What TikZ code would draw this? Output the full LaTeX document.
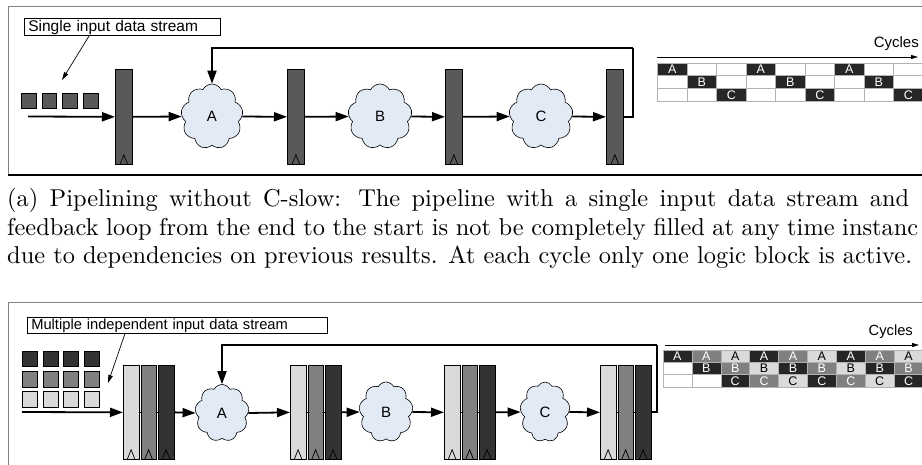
\documentclass[tikz,border=0pt]{standalone}
\usepackage{fontspec}
\newfontfamily\arialf{Liberation Sans}
\usetikzlibrary{arrows.meta,shapes.symbols,calc}
\definecolor{regtop}{HTML}{595959}
\definecolor{darkg}{HTML}{333333}
\definecolor{medg}{HTML}{808080}
\definecolor{lightg}{HTML}{DADADA}
\definecolor{cloudfill}{HTML}{E2EAF6}
\definecolor{cellblack}{HTML}{262626}
\definecolor{framegray}{HTML}{808080}
\begin{document}
\begin{tikzpicture}[x=1pt,y=-1pt,
  arr/.style={line width=1.8pt,-{Triangle[length=13pt,width=9pt]}},
  fbline/.style={line width=1.8pt},
  ptr/.style={line width=0.7pt,-{Triangle[length=8pt,width=4.5pt]}},
  cycarrow/.style={line width=0.8pt,-{Triangle[length=7pt,width=4pt]}},
  regbar/.style={draw=black,line width=0.7pt,inner sep=0pt,anchor=north west},
  bar/.style={regbar,minimum width=15.5pt,minimum height=94pt},
  clk/.style={line width=0.7pt},
  thinl/.style={line width=0.7pt},
  sq/.style={draw=black,line width=0.6pt,inner sep=0pt,anchor=north west,minimum width=14.5pt,minimum height=15.5pt},
  cloudy/.style={cloud,cloud puffs=9,cloud puff arc=125,aspect=1,draw=black,line width=0.6pt,fill=cloudfill,inner sep=0pt,font=\arialf\fontsize{15}{15}\selectfont},
  labelbox/.style={draw=black,line width=0.6pt,anchor=north west,inner xsep=4pt,inner ysep=0pt,align=left,font=\arialf\fontsize{15.5}{17}\selectfont},
  cell/.style={draw=gray!60,line width=0.5pt,inner sep=0pt,anchor=north west,font=\arialf\fontsize{12.5}{12.5}\selectfont},
  captext/.style={inner sep=0pt,anchor=base west},
  cyctext/.style={inner sep=0pt,anchor=base east,font=\arialf\fontsize{15}{15}\selectfont}
]
\useasboundingbox (0,0) rectangle (922,465);
\clip (0,0) rectangle (922,465);

% ================= top panel =================
\draw[framegray,line width=1pt] (8,175) -- (8,7) -- (940,7);
\draw[black,line width=1.5pt] (8,175) -- (940,175);

\node[labelbox,text width=188pt,minimum height=17.5pt] (lab1) at (24,18) {Single input data stream};
\coordinate (p1) at (62,80);
\draw[ptr] ([xshift=65pt]lab1.south west) -- (p1);

\foreach \i/\x in {1/21,2/41.7,3/62.3,4/83}
  \node[sq,fill=regtop] (tsq\i) at (\x,93) {};

\foreach \n/\x in {r1/115,r2/287,r3/445,r4/606}{
  \node[regbar,fill=regtop,minimum width=17pt,minimum height=95pt] (\n) at (\x,69) {};
  \draw[clk] ($(\n.south)+(-4,0)$) -- ($(\n.south)+(0,-10)$) -- ($(\n.south)+(4,0)$);
}

\node[cloudy,minimum width=62pt,minimum height=65pt] (A1) at (212,116.5) {A};
\node[cloudy,minimum width=64pt,minimum height=65pt] (B1) at (380,116.5) {B};
\node[cloudy,minimum width=64pt,minimum height=65pt] (C1) at (541,116.5) {C};

\coordinate (in1) at (28,116.5);
\draw[arr] (in1) -- (r1.west);
\draw[arr] (r1.east) -- (A1.west);
\draw[arr] (A1.east) -- (r2.west);
\draw[arr] (r2.east) -- (B1.west);
\draw[arr] (B1.east) -- (r3.west);
\draw[arr] (r3.east) -- (C1.west);
\draw[arr] (C1.east) -- (r4.west);
\coordinate (fb1) at (633,48);
\draw[fbline] (r4.east) -| (fb1);
\draw[arr] (fb1) -| (A1.north);

% cycles diagram top
\coordinate (ca1s) at (657,57);
\coordinate (ca1e) at (918,57);
\draw[cycarrow] (ca1s) -- (ca1e);
\node[cyctext] (cyc1) at (919,48) {Cycles};
\foreach \c in {0,...,8}{
  \foreach \r in {0,1,2}{
    \pgfmathtruncatemacro\m{mod(\c,3)}
    \ifnum\m=\r
      \node[cell,fill=cellblack,text=white,minimum width=29.5pt,minimum height=12.8pt] (t\r-\c) at (657.3+\c*29.5,62.7+\r*12.8) {\ifcase\r A\or B\or C\fi};
    \else
      \node[cell,fill=white,minimum width=29.5pt,minimum height=12.8pt] (t\r-\c) at (657.3+\c*29.5,62.7+\r*12.8) {};
    \fi
  }
}

% ================= caption =================
\node[captext] (cap1) at (7,207) {\scalebox{2.44}{\fontsize{10}{12}\selectfont\makebox[369.7pt][s]{(a) Pipelining without C-slow: The pipeline with a single input data stream and}}};
\node[captext] (cap2) at (7,235.5) {\scalebox{2.44}{\fontsize{10}{12}\selectfont\makebox[373.4pt][s]{feedback loop from the end to the start is not be completely filled at any time instanc}}};
\node[captext] (cap3) at (7,264) {\scalebox{2.44}{\fontsize{10}{12}\selectfont due to dependencies on previous results. At each cycle only one logic block is active.}};

% ================= bottom panel =================
\draw[framegray,line width=1pt] (8,480) -- (8,303) -- (940,303);

\node[labelbox,text width=292pt,minimum height=16pt,font=\arialf\fontsize{14.7}{16}\selectfont] (lab2) at (27,317) {Multiple independent input data stream};
\coordinate (p2) at (108,383);
\draw[ptr] ([xshift=98pt]lab2.south west) -- (p2);

\foreach \i/\x in {1/22,2/42.7,3/63.4,4/84}{
  \node[sq,fill=darkg,minimum width=15pt] (bsqd\i) at (\x,351) {};
  \node[sq,fill=medg,minimum width=15pt] (bsqm\i) at (\x,371) {};
  \node[sq,fill=lightg,minimum width=15pt] (bsql\i) at (\x,391) {};
}

\foreach \s/\x in {1/123,2/290,3/444,4/600}{
  \node[bar,fill=lightg] (s\s-l) at (\x,365) {};
  \node[bar,fill=medg] (s\s-m) at (\x+17.5,365) {};
  \node[bar,fill=darkg] (s\s-d) at (\x+35,365) {};
  \draw[thinl] (s\s-l.east) -- (s\s-m.west);
  \draw[thinl] (s\s-m.east) -- (s\s-d.west);
  \foreach \b in {l,m,d}
    \draw[clk] ($(s\s-\b.south)+(-4,0)$) -- ($(s\s-\b.south)+(0,-10)$) -- ($(s\s-\b.south)+(4,0)$);
}

\node[cloudy,minimum width=54pt,minimum height=57pt] (A2) at (222,413) {A};
\node[cloudy,minimum width=54pt,minimum height=60pt] (B2) at (386,412) {B};
\node[cloudy,minimum width=50pt,minimum height=60pt] (C2) at (545,412) {C};

\coordinate (in2) at (22,412);
\draw[arr] (in2) -- (s1-l.west);
\draw[arr] (s1-d.east) -- (A2.west);
\draw[arr] (A2.east) -- (s2-l.west);
\draw[arr] (s2-d.east) -- (B2.west);
\draw[arr] (B2.east) -- (s3-l.west);
\draw[arr] (s3-d.east) -- (C2.west);
\draw[arr] (C2.east) -- (s4-l.west);
\coordinate (fb2) at (657,345);
\draw[fbline] (s4-d.east) -| (fb2);
\draw[arr] (fb2) -| (A2.north);

% cycles diagram bottom
\coordinate (ca2s) at (665,345);
\coordinate (ca2e) at (919,345);
\draw[cycarrow] (ca2s) -- (ca2e);
\node[cyctext,font=\arialf\fontsize{14.7}{15}\selectfont] (cyc2) at (913,336) {Cycles};
\foreach \c in {0,...,8}{
  \foreach \r in {0,1,2}{
    \pgfmathtruncatemacro\k{\c-\r}
    \pgfmathtruncatemacro\m{mod(\k+3,3)}
    \ifnum\k<0
      \node[cell,fill=white,minimum width=28.9pt,minimum height=12.2pt] (u\r-\c) at (662.7+\c*28.9,350+\r*12.2) {};
    \else
      \ifcase\m
        \node[cell,fill=cellblack,text=white,minimum width=28.9pt,minimum height=12.2pt] (u\r-\c) at (662.7+\c*28.9,350+\r*12.2) {\ifcase\r A\or B\or C\fi};
      \or
        \node[cell,fill=medg,text=white,minimum width=28.9pt,minimum height=12.2pt] (u\r-\c) at (662.7+\c*28.9,350+\r*12.2) {\ifcase\r A\or B\or C\fi};
      \else
        \node[cell,fill=lightg,text=black,minimum width=28.9pt,minimum height=12.2pt] (u\r-\c) at (662.7+\c*28.9,350+\r*12.2) {\ifcase\r A\or B\or C\fi};
      \fi
    \fi
  }
}
\end{tikzpicture}
\end{document}
